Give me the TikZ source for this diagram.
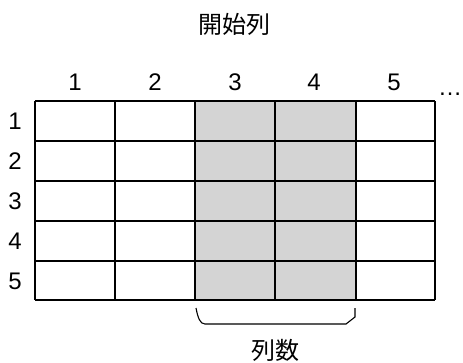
\documentclass[tikz,border=0pt]{standalone}
\usepackage{fontspec}
\setmainfont{Liberation Sans}
\newfontfamily\jpfont{Noto Sans CJK JP}
\begin{document}
\begin{tikzpicture}[x=1pt,y=-1pt,
  lab/.style={font=\fontsize{24}{24}\selectfont, inner sep=0pt},
  jlab/.style={font=\jpfont\fontsize{24}{24}\selectfont, inner sep=0pt},
  gridline/.style={line width=2.1pt},
  shade/.style={fill=black!17}]
\useasboundingbox (0,0) rectangle (463,362);
% shaded columns
\fill[shade] (195,101) rectangle (356,300);
% grid
\foreach \x in {35,115,195,275,356,435} \draw[gridline] (\x,101) -- (\x,300);
\foreach \y in {101,141,181,221,261,300} \draw[gridline] (35,\y) -- (435,\y);
% column labels
\foreach \i/\x in {1/75,2/155,3/235,4/314,5/394}
  \node[lab] (c\i) at (\x,82) {\i};
\node[lab, anchor=base] (dots) at (450,95) {\ldots};
% row labels
\foreach \i/\y in {1/121,2/161,3/201,4/241,5/281}
  \node[lab] (r\i) at (15,\y) {\i};
% title
\node[jlab] (title) at (234,24) {開始列};
% brace
\coordinate (bl) at (196,308);
\coordinate (br) at (355,308);
\draw[line width=1.1pt] (bl) .. controls (198,318) and (200,324) .. (205,324) -- (346,324) -- (355,317) -- (br);
\node[jlab] (count) at (275,350) {列数};
\end{tikzpicture}
\end{document}
